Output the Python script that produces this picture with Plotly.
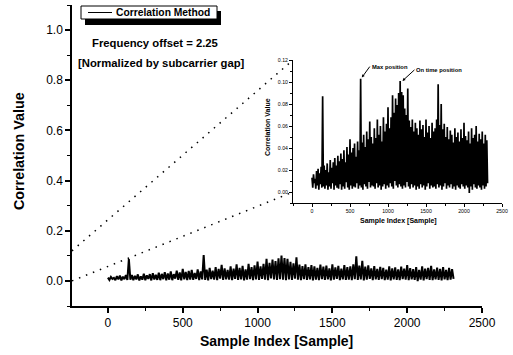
import plotly.graph_objects as go

# ---- data (peaks and troughs of the noisy correlation trace) ----
peak_index = list(range(0, 2301, 20))
peak_values = [
    0.013, 0.016, 0.012, 0.019, 0.021, 0.017, 0.023, 0.087, 0.024, 0.020,
    0.026, 0.018, 0.029, 0.022, 0.027, 0.031, 0.024, 0.033, 0.028, 0.035,
    0.030, 0.038, 0.027, 0.041, 0.034, 0.048, 0.036, 0.040, 0.044, 0.032,
    0.046, 0.038, 0.103, 0.045, 0.052, 0.041, 0.055, 0.048, 0.064, 0.050,
    0.044, 0.058, 0.049, 0.066, 0.052, 0.060, 0.046, 0.068, 0.055, 0.062,
    0.077, 0.058, 0.068, 0.088, 0.072, 0.085, 0.079, 0.090, 0.101, 0.091,
    0.088, 0.076, 0.070, 0.094, 0.065, 0.059, 0.066, 0.055, 0.063, 0.058,
    0.052, 0.065, 0.057, 0.061, 0.050, 0.066, 0.054, 0.060, 0.049, 0.063,
    0.055, 0.058, 0.066, 0.098, 0.061, 0.080, 0.057, 0.062, 0.050, 0.059,
    0.048, 0.056, 0.052, 0.045, 0.058, 0.050, 0.054, 0.046, 0.057, 0.049,
    0.063, 0.051, 0.047, 0.055, 0.044, 0.058, 0.049, 0.052, 0.060, 0.046,
    0.053, 0.048, 0.055, 0.044, 0.052, 0.047,
]
trough_index = list(range(10, 2311, 20))
trough_values = [
    0.004, 0.008, 0.003, 0.006, 0.002, 0.007, 0.004, 0.005, 0.003, 0.006,
    0.002, 0.005, 0.003, 0.008, 0.002, 0.006, 0.004, 0.003, 0.007, 0.002,
    0.005, 0.003, 0.009, 0.004, 0.002, 0.006, 0.003, 0.005, 0.004, 0.008,
    0.003, 0.006, 0.004, 0.002, 0.007, 0.005, 0.003, 0.009, 0.004, 0.006,
    0.005, 0.003, 0.008, 0.004, 0.006, 0.002, 0.005, 0.007, 0.003, 0.006,
    0.004, 0.008, 0.005, 0.003, 0.010, 0.006, 0.004, 0.007, 0.005, 0.003,
    0.006, 0.004, 0.009, 0.005, 0.003, 0.007, 0.004, 0.006, 0.002, 0.005,
    0.003, 0.007, 0.004, 0.006, 0.002, 0.005, 0.008, 0.003, 0.006, 0.004,
    0.005, 0.003, 0.007, 0.004, 0.006, 0.002, 0.005, 0.008, 0.003, 0.006,
    0.004, 0.007, 0.003, 0.005, 0.002, 0.006, 0.004, 0.003, 0.007, 0.005,
    0.003, 0.006, 0.004, -0.001, 0.005, 0.002, 0.007, 0.004, 0.003, 0.006,
    0.004, 0.002, 0.006, 0.003, 0.005, 0.008,
]

sample_index = []
corr_value = []
for pi, pv, ti, tv in zip(peak_index, peak_values, trough_index, trough_values):
    sample_index += [pi, ti]
    corr_value += [pv, tv]

max_pos = (655, 0.104)
ontime_pos = (1190, 0.101)

# ---- layout helpers (pixel -> paper) ----
WIDTH, HEIGHT = 513, 355
L, R, T, B = 72, 8, 5, 49
PW, PH = WIDTH - L - R, HEIGHT - T - B


def px_x(px):
    return (px - L) / PW


def px_y(py):
    return (T + PH - py) / PH


FONT = "Arial, Liberation Sans, sans-serif"
BLACK = "#000000"
main_xr = [-240, 2500]
main_yr = [-0.1, 1.1]
ins_xr = [-250, 2500]
ins_yr = [-0.01, 0.12]
main_xdom = [0, px_x(482)]
ins_xdom = [px_x(293), px_x(502)]
ins_ydom = [px_y(203), px_y(60)]

fig = go.Figure()
fig.add_trace(go.Scatter(x=sample_index, y=corr_value, mode="lines",
                         line=dict(color=BLACK, width=2), xaxis="x", yaxis="y",
                         showlegend=False, hoverinfo="skip"))
fig.add_trace(go.Scatter(x=sample_index, y=corr_value, mode="lines",
                         line=dict(color=BLACK, width=1.7), xaxis="x2", yaxis="y2",
                         showlegend=False, hoverinfo="skip"))

axis_common = dict(showline=True, linecolor=BLACK, ticks="outside", tickcolor=BLACK,
                   showgrid=False, zeroline=False, color=BLACK, automargin=False)

fig.update_layout(
    template="none",
    width=WIDTH, height=HEIGHT,
    margin=dict(l=L, r=R, t=T, b=B, pad=0, autoexpand=False),
    paper_bgcolor="white", plot_bgcolor="white",
    font=dict(family=FONT, color=BLACK),
    showlegend=False,
    xaxis=dict(domain=main_xdom, range=main_xr, tick0=0, dtick=500, ticklen=5,
               linewidth=1.5, tickwidth=1.5, tickfont=dict(size=12, color=BLACK),
               minor=dict(dtick=250, ticklen=3, ticks="outside", tickcolor=BLACK, tickwidth=1.2),
               anchor="y", **axis_common),
    yaxis=dict(domain=[0, 1], range=main_yr, tick0=0, dtick=0.2, tickformat=".1f", ticklen=5,
               linewidth=1.5, tickwidth=1.5, tickfont=dict(size=12, color=BLACK),
               minor=dict(dtick=0.1, ticklen=3, ticks="outside", tickcolor=BLACK, tickwidth=1.2),
               anchor="x", **axis_common),
    xaxis2=dict(domain=ins_xdom, range=ins_xr, tick0=0, dtick=500, ticklen=3,
                linewidth=1, tickwidth=1, tickfont=dict(size=5.2, color=BLACK),
                minor=dict(dtick=250, ticklen=2, ticks="outside", tickcolor=BLACK),
                anchor="y2", **axis_common),
    yaxis2=dict(domain=ins_ydom, range=ins_yr, tick0=0, dtick=0.02, tickformat=".2f", ticklen=3,
                linewidth=1, tickwidth=1, tickfont=dict(size=5.2, color=BLACK),
                minor=dict(dtick=0.01, ticklen=2, ticks="outside", tickcolor=BLACK),
                anchor="x2", **axis_common),
)

# dotted zoom lines from main axes to inset
def main_to_paper(x, y):
    fx = main_xdom[0] + (x - main_xr[0]) / (main_xr[1] - main_xr[0]) * (main_xdom[1] - main_xdom[0])
    fy = (y - main_yr[0]) / (main_yr[1] - main_yr[0])
    return fx, fy


def ins_to_paper(x, y):
    fx = ins_xdom[0] + (x - ins_xr[0]) / (ins_xr[1] - ins_xr[0]) * (ins_xdom[1] - ins_xdom[0])
    fy = ins_ydom[0] + (y - ins_yr[0]) / (ins_yr[1] - ins_yr[0]) * (ins_ydom[1] - ins_ydom[0])
    return fx, fy


for yv in (0.12, 0.0):
    x0, y0 = main_to_paper(main_xr[0], yv)
    x1, y1 = ins_to_paper(ins_xr[0], yv)
    fig.add_shape(type="line", xref="paper", yref="paper", x0=x0, y0=y0, x1=x1, y1=y1,
                  line=dict(color=BLACK, width=1.5, dash="1.5px,6px"))

# legend box with shadow
fig.add_shape(type="rect", xref="paper", yref="paper", x0=px_x(85), x1=px_x(221),
              y0=px_y(25), y1=px_y(11), fillcolor=BLACK, line=dict(width=0))
fig.add_shape(type="rect", xref="paper", yref="paper", x0=px_x(81), x1=px_x(217),
              y0=px_y(19), y1=px_y(6), fillcolor="white", line=dict(color=BLACK, width=1))
fig.add_shape(type="line", xref="paper", yref="paper", x0=px_x(88), x1=px_x(112),
              y0=px_y(12.5), y1=px_y(12.5), line=dict(color=BLACK, width=1))

ann = [
    dict(text="<b>Correlation Method</b>", x=px_x(114), y=px_y(12.5), xanchor="left",
         yanchor="middle", font=dict(size=10.3, color=BLACK)),
    dict(text="<b>Frequency offset = 2.25</b>", x=px_x(155), y=px_y(43), xanchor="center",
         yanchor="middle", font=dict(size=11.3, color=BLACK)),
    dict(text="<b>[Normalized by subcarrier gap]</b>", x=px_x(161), y=px_y(63), xanchor="center",
         yanchor="middle", font=dict(size=11.3, color=BLACK)),
    dict(text="<b>Correlation Value</b>", x=px_x(19), y=px_y(151), textangle=-90,
         xanchor="center", yanchor="middle", font=dict(size=14.3, color=BLACK)),
    dict(text="<b>Sample Index [Sample]</b>", x=px_x(276), y=px_y(341), xanchor="center",
         yanchor="middle", font=dict(size=14, color=BLACK)),
    dict(text="<b>Correlation Value</b>", x=px_x(267), y=px_y(127), textangle=-90,
         xanchor="center", yanchor="middle", font=dict(size=7, color=BLACK)),
    dict(text="<b>Sample Index [Sample]</b>", x=px_x(398), y=px_y(221), xanchor="center",
         yanchor="middle", font=dict(size=7, color=BLACK)),
]
for a in ann:
    fig.add_annotation(xref="paper", yref="paper", showarrow=False, **a)

fig.add_annotation(x=max_pos[0], y=max_pos[1], xref="x2", yref="y2", text="<b>Max position</b>",
                   showarrow=True, arrowhead=2, arrowsize=0.6, arrowwidth=1, arrowcolor=BLACK,
                   ax=8, ay=-11, xanchor="left", yanchor="middle", font=dict(size=5.8, color=BLACK))
fig.add_annotation(x=ontime_pos[0], y=ontime_pos[1], xref="x2", yref="y2",
                   text="<b>On time position</b>", showarrow=True, arrowhead=2, arrowsize=0.6,
                   arrowwidth=1, arrowcolor=BLACK, ax=12, ay=-11, xanchor="left",
                   yanchor="middle", font=dict(size=5.8, color=BLACK))

fig.write_html("out.html", config={"displayModeBar": False},
               post_script="document.body.style.margin='0px';document.body.style.padding='0px';")
